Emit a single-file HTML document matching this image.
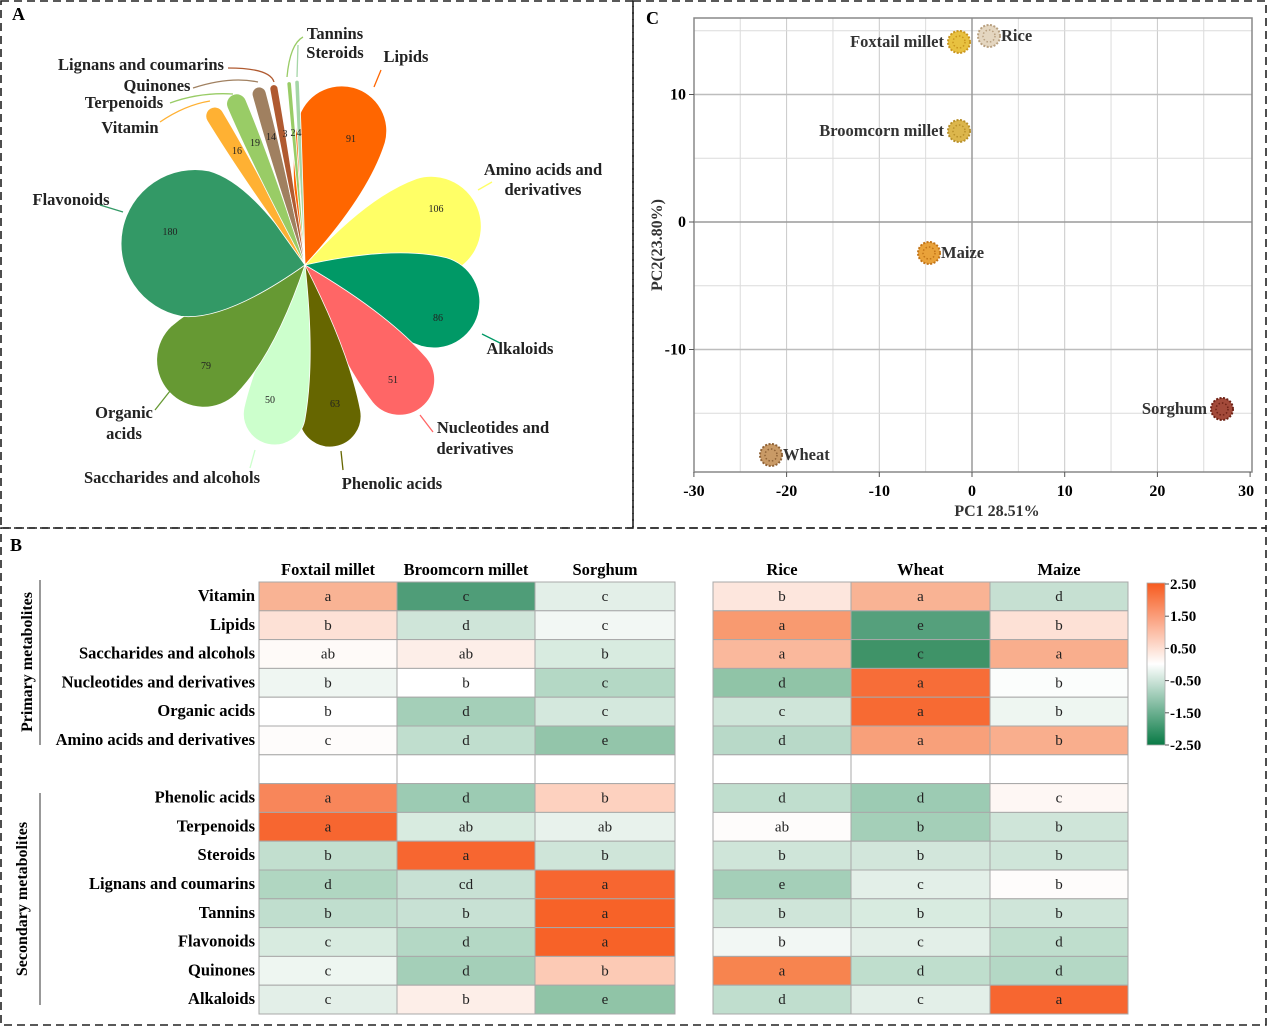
<!DOCTYPE html>
<html><head><meta charset="utf-8"><style>
html,body{margin:0;padding:0;background:#fff;}
svg{display:block;font-family:"Liberation Serif",serif;}
</style></head><body>
<svg id="s" width="1269" height="1027" viewBox="0 0 1269 1027" xmlns="http://www.w3.org/2000/svg">
<g fill="none" stroke="#222" stroke-width="1.6" stroke-dasharray="8,5">
<rect x="1" y="1" width="632" height="527"/>
<rect x="633" y="1" width="633" height="527"/>
<rect x="1" y="528" width="1265" height="497"/>
</g>
<text x="12" y="20" font-size="18" font-weight="bold">A</text>
<text x="646" y="24" font-size="18" font-weight="bold">C</text>
<text x="10" y="551" font-size="18" font-weight="bold">B</text>
<g id="petals"></g>
<g id="pca"></g>
<g id="heat"></g>
</svg>
<script>
const NS="http://www.w3.org/2000/svg";
function el(p,t,a,txt){const e=document.createElementNS(NS,t);for(const k in a)e.setAttribute(k,a[k]);if(txt!==undefined)e.textContent=txt;p.appendChild(e);return e;}
const P=document.getElementById('petals');
const cx=305,cy=265;
const petals=[
[-74.7,184,45,'#ff6600'],
[-17,182,50,'#ffff66'],
[16,180,46,'#009966'],
[50.6,184,35,'#ff6666'],
[80.6,184,31,'#666600'],
[101.6,183,31,'#ccffcc'],
[136.8,186,47,'#669933'],
[191,186,74,'#339966'],
[238.8,183,9,'#ffb133'],
[247,185,10,'#99cc66'],
[255,184,7,'#a08060'],
[260,183,4,'#b05a30'],
[265,184,2.2,'#99cc66'],
[267.5,185,2.2,'#a5d6a7']];
petals.forEach(([ang,L,w,c])=>{
 const a=L-w;
 const g=el(P,'g',{transform:`translate(${cx},${cy}) rotate(${ang})`});
 el(g,'path',{d:`M0,0 Q${a*0.6},${-w*0.95} ${a},${-w} A${w},${w} 0 0 1 ${a},${w} Q${a*0.6},${w*0.95} 0,0Z`,fill:c,stroke:'#fff','stroke-width':0.8});
});
const nums=[[351,142,'91'],[436,212,'106'],[438,321,'86'],[393,383,'51'],[335,407,'63'],[270,403,'50'],[206,369,'79'],[170,235,'180'],[237,154,'16'],[255,146,'19'],[271,140,'14'],[285,137,'3'],[293,136,'2'],[299,136,'4']];
nums.forEach(([x,y,t])=>el(P,'text',{x,y,'font-size':10,'text-anchor':'middle',fill:'#222'},t));
const labs=[
[406,62,'Lipids'],[543,175,'Amino acids and'],[543,195,'derivatives'],
[520,354,'Alkaloids'],[493,433,'Nucleotides and'],[475,454,'derivatives'],
[392,489,'Phenolic acids'],[172,483,'Saccharides and alcohols'],
[124,418,'Organic'],[124,439,'acids'],[71,205,'Flavonoids'],
[130,133,'Vitamin'],[124,108,'Terpenoids'],[157,91,'Quinones'],
[141,70,'Lignans and coumarins'],[335,39,'Tannins'],[335,58,'Steroids']];
labs.forEach(([x,y,t])=>el(P,'text',{x,y,'font-size':16.5,'font-weight':'bold','text-anchor':'middle',fill:'#222'},t));
const lines=[
['M374,87 L381,70','#ff6600'],['M478,190 L492,182','#ffff66'],['M482,334 L500,343','#009966'],
['M420,415 L433,432','#ff6666'],['M341,451 L343,470','#666600'],['M255,450 L250,468','#ccffcc'],
['M170,391 L155,410','#669933'],['M123,212 L100,205','#339966'],
['M160,122 Q185,105 210,101','#ffb133'],['M170,103 Q200,92 233,94','#99cc66'],
['M193,88 Q230,76 258,82','#a08060'],['M228,68 Q270,68 274,82','#b05a30'],
['M287,77 Q290,44 303,37','#99cc66'],['M297,77 L298,45','#a5d6a7']];
lines.forEach(([d,c])=>el(P,'path',{d,stroke:c,fill:'none','stroke-width':1.3}));
const C=document.getElementById('pca');
const X0=694,X1=1252,Y0=18,Y1=472;
const xp=v=>972+v*9.27, yp=v=>222-v*12.75;
for(let v=-25;v<=25;v+=5){if(v===0)continue;el(C,'line',{x1:xp(v),x2:xp(v),y1:Y0,y2:Y1,stroke:v%10===0?'#c8c8c8':'#dcdcdc','stroke-width':1});}
[-15,-10,-5,5,10,15].forEach(v=>el(C,'line',{x1:X0,x2:X1,y1:yp(v),y2:yp(v),stroke:v%10===0?'#bdbdbd':'#dcdcdc','stroke-width':v%10===0?1.5:1}));
el(C,'line',{x1:xp(0),x2:xp(0),y1:Y0,y2:Y1,stroke:'#9a9a9a','stroke-width':1.5});
el(C,'line',{x1:X0,x2:X1,y1:yp(0),y2:yp(0),stroke:'#9a9a9a','stroke-width':1.5});
el(C,'rect',{x:X0,y:Y0,width:X1-X0,height:Y1-Y0,fill:'none',stroke:'#888','stroke-width':1.5});
[-30,-20,-10,0,10,20,30].forEach(v=>{el(C,'line',{x1:xp(v),x2:xp(v),y1:Y1,y2:Y1+5,stroke:'#555'});el(C,'text',{x:xp(v)-(v===30?4:0),y:Y1+24,'font-size':16,'font-weight':'bold','text-anchor':'middle'},String(v));});
[10,0,-10].forEach(v=>{el(C,'line',{x1:X0-5,x2:X0,y1:yp(v),y2:yp(v),stroke:'#555'});el(C,'text',{x:X0-8,y:yp(v)+5,'font-size':16,'font-weight':'bold','text-anchor':'end'},String(v));});
el(C,'text',{x:997,y:516,'font-size':16,'font-weight':'bold','text-anchor':'middle',fill:'#333'},'PC1 28.51%');
el(C,'text',{x:0,y:0,'font-size':16,'font-weight':'bold','text-anchor':'middle',fill:'#333',transform:'translate(662,245) rotate(-90)'},'PC2(23.80%)');
const pts=[[959,42,'#e8c140','#c9951e','Foxtail millet','l'],[989,36,'#e4d6c0','#b8a080','Rice','r'],[959,131,'#dcb64c','#b8902a','Broomcorn millet','l'],[929,253,'#e9a23a','#c27418','Maize','r'],[1222,409,'#a34a3a','#6e2216','Sorghum','l'],[771,455,'#c99a66','#8f6236','Wheat','r']];
pts.forEach(([x,y,c1,c2,t,s])=>{
 el(C,'circle',{cx:x,cy:y,r:11,fill:c1,stroke:c2,'stroke-width':2,'stroke-dasharray':'2,1.5'});
 el(C,'circle',{cx:x,cy:y,r:6,fill:'none',stroke:c2,'stroke-width':1.5,'stroke-dasharray':'1.5,2'});
 el(C,'text',{x:s==='l'?x-15:x+12,y:y+5,'font-size':16.5,'font-weight':'bold','text-anchor':s==='l'?'end':'start',fill:'#333'},t);
});
const H=document.getElementById('heat');
const cols=[[259,397],[397,535],[535,675],null,[713,851],[851,990],[990,1128]];
const heads=['Foxtail millet','Broomcorn millet','Sorghum',null,'Rice','Wheat','Maize'];
heads.forEach((h,i)=>{if(h)el(H,'text',{x:(cols[i][0]+cols[i][1])/2,y:575,'font-size':16.5,'font-weight':'bold','text-anchor':'middle'},h);});
const rows=[
['Vitamin',['#f9b394','a'],['#4f9d78','c'],['#e3efe8','c'],['#fde6dd','b'],['#f9b394','a'],['#c6e0d2','d']],
['Lipids',['#fde1d6','b'],['#cfe5d9','d'],['#f2f7f4','c'],['#f89a70','a'],['#55a07c','e'],['#fde1d6','b']],
['Saccharides and alcohols',['#fefaf8','ab'],['#fdeee8','ab'],['#d8ebe0','b'],['#fab89c','a'],['#3f9368','c'],['#f9ae8d','a']],
['Nucleotides and derivatives',['#eff6f2','b'],['#ffffff','b'],['#b4d8c5','c'],['#90c4a7','d'],['#f76d38','a'],['#fbfdfc','b']],
['Organic acids',['#ffffff','b'],['#a4cfb8','d'],['#d4e8dd','c'],['#cfe5d9','c'],['#f76a33','a'],['#eef6f1','b']],
['Amino acids and derivatives',['#fefcfb','c'],['#c0dece','d'],['#93c5aa','e'],['#b8d9c8','d'],['#f8a07a','a'],['#f9ae8d','b']],
['',['#fff',''],['#fff',''],['#fff',''],['#fff',''],['#fff',''],['#fff','']],
['Phenolic acids',['#f8865a','a'],['#9ccbb3','d'],['#fdd1bf','b'],['#c0dece','d'],['#9ccbb3','d'],['#fef7f4','c']],
['Terpenoids',['#f76630','a'],['#d8ebe0','ab'],['#e8f2ec','ab'],['#fefcfb','ab'],['#a4cfb8','b'],['#cfe5d9','b']],
['Steroids',['#c2dfcf','b'],['#f76630','a'],['#cfe5d9','b'],['#cfe5d9','b'],['#d2e6db','b'],['#cfe5d9','b']],
['Lignans and coumarins',['#b0d6c1','d'],['#c8e1d4','cd'],['#f76630','a'],['#a4cfb8','e'],['#e3efe8','c'],['#fefcfb','b']],
['Tannins',['#c0dece','b'],['#c8e1d4','b'],['#f76228','a'],['#cfe5d9','b'],['#d8ebe0','b'],['#cfe5d9','b']],
['Flavonoids',['#d8ebe0','c'],['#b4d8c5','d'],['#f76228','a'],['#f2f7f4','b'],['#e3efe8','c'],['#bfdecd','d']],
['Quinones',['#eef6f1','c'],['#a4cfb8','d'],['#fccab5','b'],['#f7844f','a'],['#bfdecd','d'],['#b4d8c5','d']],
['Alkaloids',['#e3efe8','c'],['#fdeee8','b'],['#90c4a7','e'],['#c0dece','d'],['#e3efe8','c'],['#f76630','a']]];
const ry0=582,rh=28.8;
rows.forEach((r,i)=>{
 const y=ry0+i*rh;
 if(r[0])el(H,'text',{x:255,y:y+19,'font-size':16.5,'font-weight':'bold','text-anchor':'end'},r[0]);
 const idx=[0,1,2,4,5,6];
 for(let j=0;j<6;j++){const c=cols[idx[j]];const [f,t]=r[j+1];
  el(H,'rect',{x:c[0],y,width:c[1]-c[0],height:rh,fill:f,stroke:'#a8a8a8','stroke-width':1});
  if(t)el(H,'text',{x:(c[0]+c[1])/2,y:y+19,'font-size':15,'text-anchor':'middle',fill:'#222'},t);}
});
el(H,'line',{x1:40,x2:40,y1:580,y2:745,stroke:'#999','stroke-width':2});
el(H,'line',{x1:40,x2:40,y1:793,y2:1005,stroke:'#999','stroke-width':2});
el(H,'text',{x:0,y:0,'font-size':16,'font-weight':'bold','text-anchor':'middle',transform:'translate(32,662) rotate(-90)'},'Primary metabolites');
el(H,'text',{x:0,y:0,'font-size':16,'font-weight':'bold','text-anchor':'middle',transform:'translate(27,899) rotate(-90)'},'Secondary metabolites');
const defs=el(document.getElementById('s'),'defs',{});
const lg=el(defs,'linearGradient',{id:'cb',x1:0,y1:0,x2:0,y2:1});
[[0,'#f75a1e'],[0.5,'#ffffff'],[1,'#087a45']].forEach(([o,c])=>el(lg,'stop',{offset:o,'stop-color':c}));
el(H,'rect',{x:1147,y:583,width:18,height:162,fill:'url(#cb)',stroke:'#aaa','stroke-width':0.8});
['2.50','1.50','0.50','-0.50','-1.50','-2.50'].forEach((t,i)=>{const y=584+i*32.2;
 el(H,'line',{x1:1165,x2:1169,y1:y,y2:y,stroke:'#555'});
 el(H,'text',{x:1170,y:y+5,'font-size':15,'font-weight':'bold'},t);});
</script>
</body></html>
